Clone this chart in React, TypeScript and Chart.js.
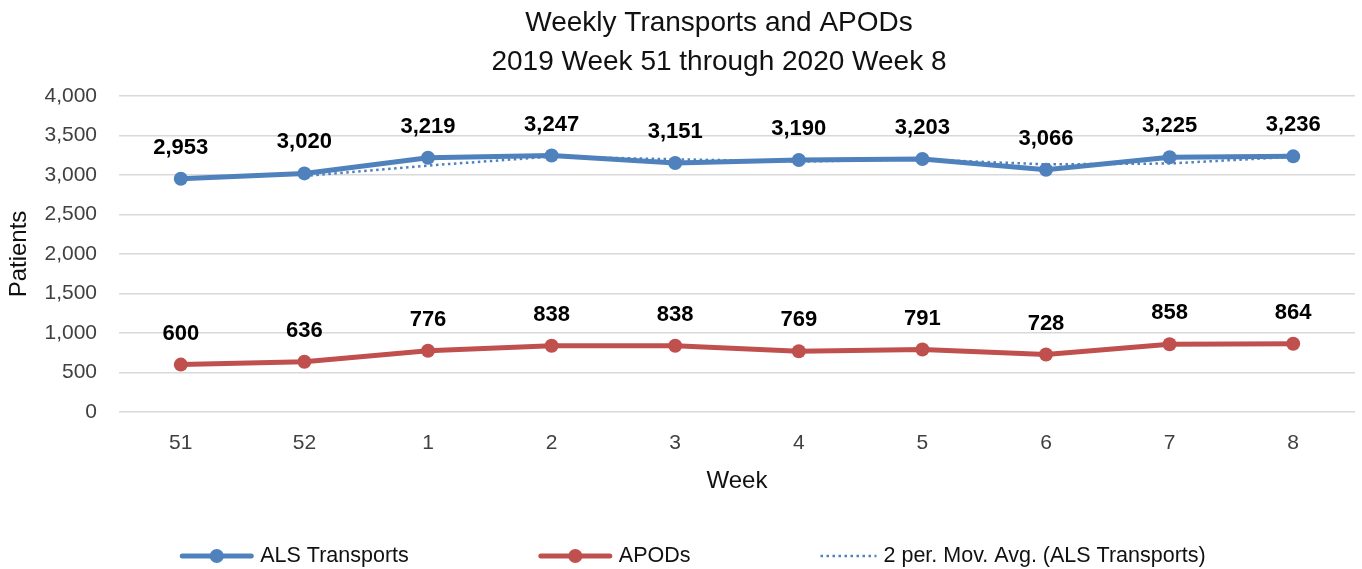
import React, { useEffect, useRef } from 'react';
import { Chart, registerables } from 'chart.js';

Chart.register(...registerables);

// ---- data ----
const weeks = ['51', '52', '1', '2', '3', '4', '5', '6', '7', '8'];
const alsTransports = [2953, 3020, 3219, 3247, 3151, 3190, 3203, 3066, 3225, 3236];
const apods = [600, 636, 776, 838, 838, 769, 791, 728, 858, 864];
const alsMovingAvg2 = [null, 2986.5, 3119.5, 3233, 3199, 3170.5, 3196.5, 3134.5, 3145.5, 3230.5];
const titleLines = ['Weekly Transports and APODs', '2019 Week 51 through 2020 Week 8'];
const seriesNames = ['ALS Transports', 'APODs', '2 per. Mov. Avg. (ALS Transports)'];
const yAxisTitle = 'Patients';
const xAxisTitle = 'Week';

// ---- styles ----
const BLUE = '#4F81BD';
const RED = '#C0504D';
const FONT = '"Liberation Sans", Arial, sans-serif';
const W = 1362;
const H = 569;

const fmt = (v: number) => v.toLocaleString('en-US');

const titlePlugin = {
  id: 'excelTitle',
  afterDraw(chart: any) {
    const ctx = chart.ctx;
    ctx.save();
    ctx.font = `28px ${FONT}`;
    ctx.fillStyle = '#111';
    ctx.textAlign = 'center';
    ctx.textBaseline = 'middle';
    const cx = chart.width / 2 + 38;
    ctx.fillText(titleLines[0], cx, 23);
    ctx.fillText(titleLines[1], cx, 62);
    ctx.restore();
  },
};

const dataLabelPlugin = {
  id: 'dataLabels',
  afterDatasetsDraw(chart: any) {
    const ctx = chart.ctx;
    ctx.save();
    ctx.font = `bold 22px ${FONT}`;
    ctx.fillStyle = '#000';
    ctx.textAlign = 'center';
    ctx.textBaseline = 'middle';
    [0, 1].forEach((di) => {
      const meta = chart.getDatasetMeta(di);
      const values = chart.data.datasets[di].data;
      meta.data.forEach((pt: any, j: number) => {
        ctx.fillText(fmt(values[j]), pt.x, pt.y - 31);
      });
    });
    ctx.restore();
  },
};

const legendPlugin = {
  id: 'excelLegend',
  afterDraw(chart: any) {
    const ctx = chart.ctx;
    ctx.save();
    ctx.font = `21.5px ${FONT}`;
    const items = [
      { text: seriesNames[0], color: BLUE, kind: 'line', sw: 73 },
      { text: seriesNames[1], color: RED, kind: 'line', sw: 73 },
      { text: seriesNames[2], color: BLUE, kind: 'dot', sw: 56 },
    ];
    const textGap = 7;
    const itemGap = 130;
    const widths = items.map((it) => it.sw + textGap + ctx.measureText(it.text).width);
    const total = widths.reduce((a, b) => a + b, 0) + itemGap * (items.length - 1);
    let x = 693 - total / 2;
    const y = 556;
    items.forEach((it, i) => {
      ctx.strokeStyle = it.color;
      ctx.fillStyle = it.color;
      if (it.kind === 'line') {
        ctx.lineWidth = 5;
        ctx.setLineDash([]);
        ctx.lineCap = 'round';
        ctx.beginPath();
        ctx.moveTo(x + 2, y);
        ctx.lineTo(x + it.sw - 2, y);
        ctx.stroke();
        ctx.beginPath();
        ctx.arc(x + it.sw / 2, y, 7, 0, Math.PI * 2);
        ctx.fill();
      } else {
        ctx.lineWidth = 2.5;
        ctx.lineCap = 'butt';
        ctx.setLineDash([2.5, 3.5]);
        ctx.beginPath();
        ctx.moveTo(x, y);
        ctx.lineTo(x + it.sw, y);
        ctx.stroke();
        ctx.setLineDash([]);
      }
      ctx.fillStyle = '#111';
      ctx.textAlign = 'left';
      ctx.textBaseline = 'middle';
      ctx.fillText(it.text, x + it.sw + textGap, y);
      x += widths[i] + itemGap;
    });
    ctx.restore();
  },
};

export default function App() {
  const canvasRef = useRef<HTMLCanvasElement | null>(null);

  useEffect(() => {
    const canvas = canvasRef.current;
    if (!canvas) return;
    const chart = new Chart(canvas, {
      type: 'line',
      data: {
        labels: weeks,
        datasets: [
          {
            label: seriesNames[0],
            data: alsTransports,
            borderColor: BLUE,
            backgroundColor: BLUE,
            borderWidth: 5,
            pointRadius: 7,
            pointHoverRadius: 7,
            pointBackgroundColor: BLUE,
            pointBorderColor: BLUE,
            pointBorderWidth: 0,
            tension: 0,
            order: 2,
          },
          {
            label: seriesNames[1],
            data: apods,
            borderColor: RED,
            backgroundColor: RED,
            borderWidth: 5,
            pointRadius: 7,
            pointHoverRadius: 7,
            pointBackgroundColor: RED,
            pointBorderColor: RED,
            pointBorderWidth: 0,
            tension: 0,
            order: 3,
          },
          {
            label: seriesNames[2],
            data: alsMovingAvg2,
            borderColor: BLUE,
            borderWidth: 2.5,
            borderDash: [2.5, 3.5],
            pointRadius: 0,
            pointHoverRadius: 0,
            spanGaps: false,
            tension: 0,
            order: 1,
          },
        ],
      },
      options: {
        responsive: false,
        animation: false,
        events: [],
        layout: { padding: { top: 96, left: 0, right: 3, bottom: 73 } },
        font: { family: FONT },
        plugins: {
          legend: { display: false },
          title: { display: false },
          tooltip: { enabled: false },
        },
        scales: {
          x: {
            offset: true,
            grid: { display: false, drawTicks: false },
            border: { display: false },
            ticks: {
              color: '#404040',
              font: { family: FONT, size: 21 },
              padding: 19,
              maxRotation: 0,
            },
            title: {
              display: true,
              text: xAxisTitle,
              color: '#111',
              font: { family: FONT, size: 24 },
              padding: { top: -8, bottom: 0 },
            },
          },
          y: {
            min: 0,
            max: 4000,
            afterFit: (s: any) => {
              s.width = 119;
            },
            grid: { color: '#D9D9D9', lineWidth: 1.5, drawTicks: false },
            border: { display: false },
            ticks: {
              stepSize: 500,
              color: '#404040',
              font: { family: FONT, size: 21 },
              padding: 22,
              callback: (v: any) => fmt(Number(v)),
            },
            title: {
              display: true,
              text: yAxisTitle,
              color: '#111',
              font: { family: FONT, size: 24 },
              padding: { top: 5, bottom: 0 },
            },
          },
        },
      },
      plugins: [titlePlugin, dataLabelPlugin, legendPlugin],
    } as any);
    return () => chart.destroy();
  }, []);

  return (
    <div style={{ position: 'fixed', left: 0, top: 0, width: W, height: H, background: '#fff' }}>
      <canvas ref={canvasRef} width={W} height={H} style={{ display: 'block', width: W, height: H }} />
    </div>
  );
}
